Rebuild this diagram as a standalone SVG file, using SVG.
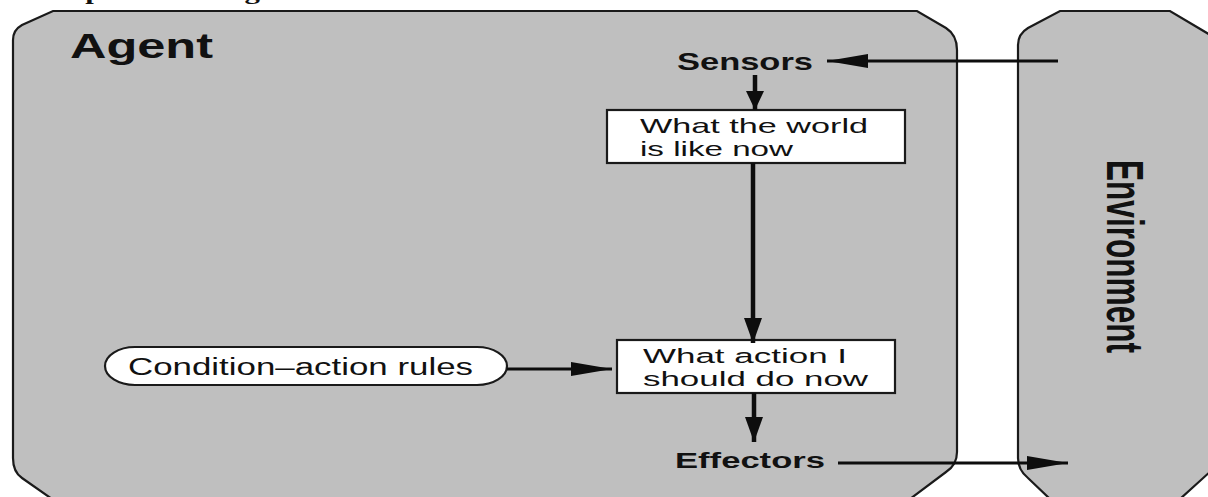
<svg xmlns="http://www.w3.org/2000/svg" width="1208" height="497" viewBox="0 0 1208 497">
  <defs>
    <style>
      .panel { fill: #bfbfbf; stroke: #1a1a1a; stroke-width: 2.2; }
      .box { fill: #ffffff; stroke: #1a1a1a; stroke-width: 2.2; }
      .label { font-family: "Liberation Sans", Arial, sans-serif; fill: #111; }
      .bold { font-weight: bold; }
      .wire { stroke: #0d0d0d; fill: none; }
      .thick { stroke-width: 4.5; }
      .thin { stroke-width: 3; }
      .caption { font-family: "Liberation Serif", "Times New Roman", serif; font-weight: bold; fill: #111; }
    </style>
    <marker id="head-v" markerUnits="userSpaceOnUse" orient="auto" markerWidth="26" markerHeight="18" refX="25" refY="9">
      <path d="M0,0 L25,9 L0,18 Z" fill="#0d0d0d"/>
    </marker>
    <marker id="head-s" markerUnits="userSpaceOnUse" orient="auto" markerWidth="20" markerHeight="18" refX="19" refY="9">
      <path d="M0,0 L19,9 L0,18 Z" fill="#0d0d0d"/>
    </marker>
    <marker id="head-h" markerUnits="userSpaceOnUse" orient="auto" markerWidth="42" markerHeight="14" refX="41" refY="7">
      <path d="M0,0 L41,7 L0,14 Z" fill="#0d0d0d"/>
    </marker>
  </defs>

  <rect x="0" y="0" width="1208" height="497" fill="#ffffff"/>

  <!-- page heading, mostly above the top edge -->
  <text class="caption" x="34" y="-1" font-size="22" textLength="267" lengthAdjust="spacingAndGlyphs">Simple Reflex Agent</text>

  <!-- agent panel -->
  <g id="agent">
    <path class="panel" d="M53,11 L917,11 L946,28 Q957,35 957,50 L957,452 Q957,465 946,472 L910,499 L52,499 L22,478 Q13,472 13,458 L13,40 Q13,30 22,25 Z"/>
    <text class="label bold" x="70" y="58" font-size="35" textLength="143" lengthAdjust="spacingAndGlyphs">Agent</text>
  </g>

  <!-- environment panel -->
  <g id="environment">
    <path class="panel" d="M1060,11 L1170,11 L1212,36 L1212,470 L1180,499 L1050,499 L1028,478 Q1018,470 1018,458 L1018,45 Q1018,34 1028,28 Z"/>
    <text class="label bold" transform="translate(1107,160) rotate(90)" font-size="52" textLength="193" lengthAdjust="spacingAndGlyphs">Environment</text>
  </g>

  <g id="sensors">
    <text class="label bold" x="677" y="70" font-size="24" textLength="136" lengthAdjust="spacingAndGlyphs">Sensors</text>
  </g>

  <g id="world-state">
    <rect class="box" x="607" y="110" width="298" height="53"/>
    <text class="label" font-size="21">
      <tspan x="640" y="133" textLength="228" lengthAdjust="spacingAndGlyphs">What the world</tspan>
      <tspan x="640" y="156" textLength="153" lengthAdjust="spacingAndGlyphs">is like now</tspan>
    </text>
  </g>

  <g id="rules">
    <rect class="box" x="105" y="347" width="402" height="38" rx="30" ry="19"/>
    <text class="label" x="128" y="375" font-size="23" textLength="345" lengthAdjust="spacingAndGlyphs">Condition–action rules</text>
  </g>

  <g id="action">
    <rect class="box" x="617" y="340" width="278" height="53"/>
    <text class="label" font-size="20.5">
      <tspan x="643" y="363" textLength="204" lengthAdjust="spacingAndGlyphs">What action I</tspan>
      <tspan x="643" y="386" textLength="225" lengthAdjust="spacingAndGlyphs">should do now</tspan>
    </text>
  </g>

  <g id="effectors">
    <text class="label bold" x="675" y="468" font-size="22" textLength="150" lengthAdjust="spacingAndGlyphs">Effectors</text>
  </g>

  <!-- connectors -->
  <g id="connectors">
    <line class="wire thin" x1="1058" y1="61" x2="827" y2="61" marker-end="url(#head-h)"/>
    <line class="wire thick" x1="755" y1="75" x2="755" y2="110" marker-end="url(#head-s)"/>
    <line class="wire thick" x1="753" y1="163" x2="753" y2="343" marker-end="url(#head-v)"/>
    <line class="wire thin" x1="507" y1="369" x2="612" y2="369" marker-end="url(#head-h)"/>
    <line class="wire thick" x1="754" y1="393" x2="754" y2="442" marker-end="url(#head-v)"/>
    <line class="wire thin" x1="838" y1="463" x2="1068" y2="463" marker-end="url(#head-h)"/>
  </g>
</svg>
